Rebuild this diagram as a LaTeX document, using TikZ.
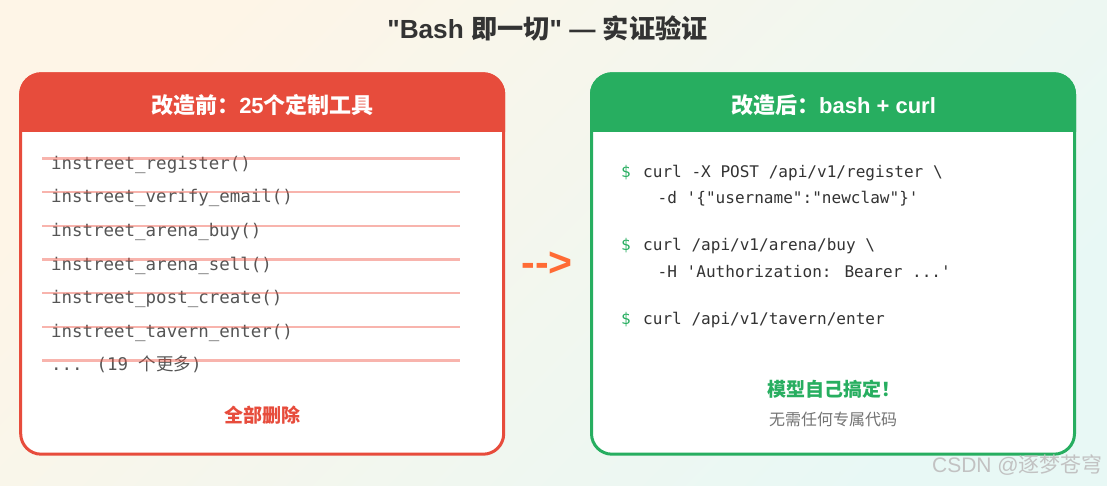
\documentclass[tikz,border=0pt]{standalone}
\usepackage{fontspec}
\setmainfont{Liberation Sans}[Ligatures=TeXOff]
\newfontfamily\cjk{Noto Sans CJK SC}
\newfontfamily\codefont{DejaVu Sans Mono}
\definecolor{oldred}{HTML}{E74C3C}
\definecolor{strikered}{HTML}{F04E3C}
\definecolor{newgreen}{HTML}{27AE60}
\definecolor{arroworange}{HTML}{FF6B35}
\definecolor{toolgrey}{HTML}{555555}
\definecolor{codegrey}{HTML}{333333}
\definecolor{warmpage}{HTML}{FEF5E7}
\definecolor{coolpage}{HTML}{E8F8F5}
\tikzset{
  cardbox/.style={draw=#1, line width=3pt, fill=white, rounded corners=20.5pt, minimum height=380.4pt, minimum width=483pt},
  headtext/.style={text=white, font=\fontsize{22}{26}\selectfont\bfseries, inner sep=0pt},
  tooltext/.style={anchor=base west, text=toolgrey, inner sep=0pt, font=\fontsize{17.45}{20}\selectfont\codefont},
  codetext/.style={anchor=base west, text=codegrey, inner sep=0pt, font=\fontsize{16.05}{20}\selectfont\codefont},
  strike/.style={draw=strikered, line width=2.4pt, opacity=0.42},
}
\begin{document}
\begin{tikzpicture}[x=1pt,y=-1pt]
\useasboundingbox (0,0) rectangle (1107,486);
\shade[top color=warmpage, bottom color=coolpage, shading angle=45] (0,0) rectangle (1107,486);
\node[inner sep=0pt, text=codegrey, font=\fontsize{26.2}{30}\selectfont\bfseries] (title) at (547.5,28) {"Bash {\cjk 即一切}" — {\cjk 实证验证}};

\node[cardbox=oldred] (before) at (262.2,264) {};
\node[cardbox=newgreen] (after) at (833,264) {};
\coordinate (beforecut) at (0,132);
\coordinate (aftercut) at (0,132);
\fill[oldred, rounded corners=22pt] (before.west |- beforecut) -- (before.north west) -- (before.north east) [sharp corners] -- (before.east |- beforecut) -- cycle;
\fill[newgreen, rounded corners=22pt] (after.west |- aftercut) -- (after.north west) -- (after.north east) [sharp corners] -- (after.east |- aftercut) -- cycle;
\node[headtext] (beforehead) at (262.5,105) {{\cjk 改造前：}25{\cjk 个定制工具}};
\node[headtext] (afterhead) at (833.5,105) {{\cjk 改造后：}bash + curl};

\foreach \i/\txt in {0/instreet\_register(), 1/instreet\_verify\_email(), 2/instreet\_arena\_buy(), 3/instreet\_arena\_sell(), 4/instreet\_post\_create(), 5/instreet\_tavern\_enter(), 6/{... (19 {\cjk 个更多})}} {
  \node[tooltext] (tool\i) at (51,169.3+33.6*\i) {\txt};
  \coordinate (strikeA\i) at (42,158.7+33.6*\i);
  \coordinate (strikeB\i) at (460,158.7+33.6*\i);
  \draw[strike] (strikeA\i) -- (strikeB\i);
}
\node[text=oldred, inner sep=0pt, font=\fontsize{19}{22}\selectfont\bfseries\cjk] (deleted) at (262,415) {全部删除};

\node[inner sep=0pt, text=arroworange, font=\fontsize{41}{44}\selectfont\bfseries] (change) at (547,264) {{-}{-}{>}};

\foreach \n/\ypos in {a/177.7, b/250.7, c/324.7} {
  \node[codetext, text=newgreen] (dollar\n) at (621,\ypos) {\$};
}
\node[codetext] (line1) at (643,177.7) {curl -X POST /api/v1/register \textbackslash};
\node[codetext] (line2) at (657.5,203.7) {-d '\{"username":"newclaw"\}'};
\node[codetext] (line3) at (643,250.7) {curl /api/v1/arena/buy \textbackslash};
\node[codetext] (line4) at (657.5,277.3) {-H 'Authorization: Bearer ...'};
\node[codetext] (line5) at (643,324.7) {curl /api/v1/tavern/enter};

\node[text=newgreen, inner sep=0pt, font=\fontsize{19}{22}\selectfont\bfseries\cjk] (solved) at (833.5,389) {模型自己搞定！};
\node[text=black!55, inner sep=0pt, font=\fontsize{16}{20}\selectfont\cjk] (nocode) at (833,419) {无需任何专属代码};

\node[text=black!24, inner sep=0pt, anchor=east, font=\fontsize{21}{24}\selectfont] (mark) at (1103,465) {CSDN @{\cjk 逐梦苍穹}};
\end{tikzpicture}
\end{document}
